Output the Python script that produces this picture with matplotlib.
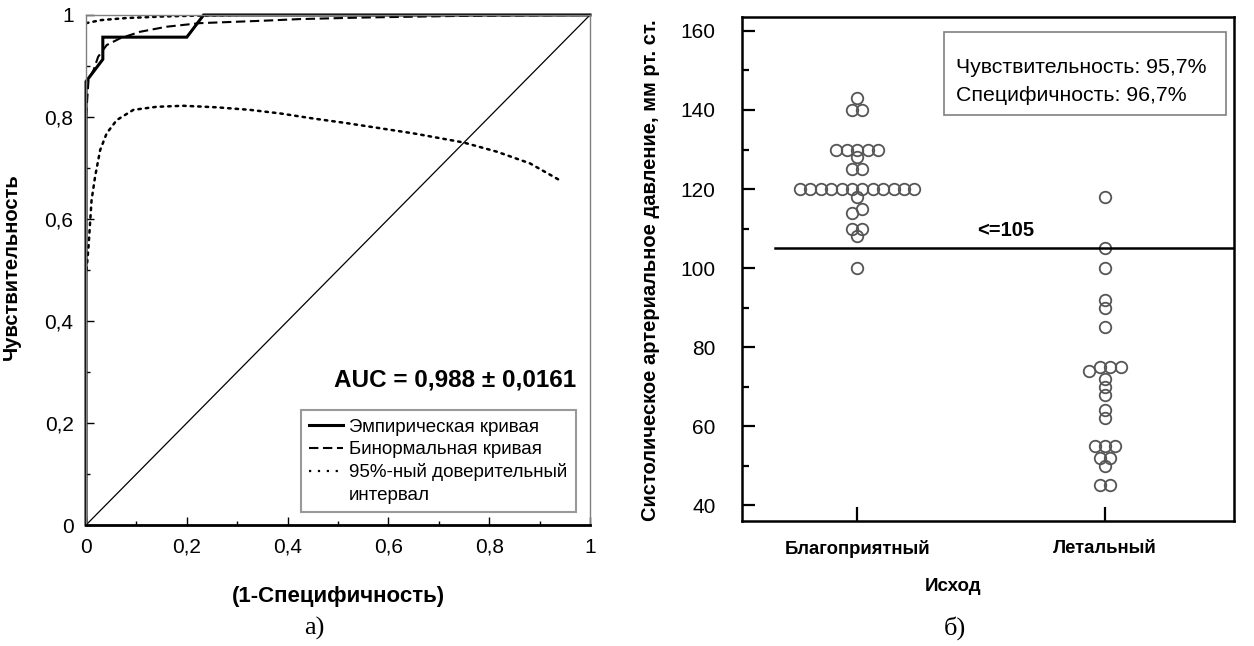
import numpy as np
import matplotlib.pyplot as plt
from matplotlib.lines import Line2D
from matplotlib.patches import Rectangle
from matplotlib.ticker import MultipleLocator, FuncFormatter

plt.rcParams['font.family'] = ['Liberation Sans', 'DejaVu Sans']

# ROC: empirical curve (23 lethal, 30 favourable outcomes)
emp_fpr = [0.0, 0.0, 1 / 30, 1 / 30, 6 / 30, 7 / 30, 1.0]
emp_tpr = [0.0, 20 / 23, 21 / 23, 22 / 23, 22 / 23, 1.0, 1.0]

# binormal fit
bin_fpr = [0.0, 0.005, 0.015, 0.024, 0.041, 0.067, 0.107, 0.16, 0.226, 0.358, 0.425, 0.55, 0.73, 1.0]
bin_tpr = [0.80, 0.873, 0.892, 0.918, 0.941, 0.954, 0.967, 0.977, 0.984, 0.989, 0.992, 0.995, 0.998, 1.0]

# 95% confidence band
ci_up_fpr = [0.0, 0.03, 0.08, 0.15, 0.23, 0.30]
ci_up_tpr = [0.984, 0.990, 0.994, 0.997, 0.999, 1.0]
ci_lo_fpr = [0.001, 0.005, 0.008, 0.011, 0.018, 0.028, 0.041, 0.061, 0.094, 0.14, 0.193, 0.259,
             0.325, 0.385, 0.451, 0.517, 0.583, 0.649, 0.716, 0.749, 0.815, 0.881, 0.94]
ci_lo_tpr = [0.50, 0.546, 0.592, 0.637, 0.683, 0.735, 0.768, 0.794, 0.814, 0.82, 0.822, 0.819,
             0.814, 0.807, 0.797, 0.788, 0.778, 0.768, 0.756, 0.75, 0.732, 0.709, 0.676]

auc_text = "AUC = 0,988 ± 0,0161"

# systolic pressure by outcome
groups = ["Благоприятный", "Летальный"]
sbp_good = [143, 140, 140, 130, 130, 130, 130, 130, 128, 125, 125,
            120, 120, 120, 120, 120, 120, 120, 120, 120, 120, 120, 120,
            118, 115, 114, 110, 110, 108, 100]
sbp_dead = [118, 105, 100, 92, 90, 85, 75, 75, 75, 74, 72, 70, 68, 64, 62,
            55, 55, 55, 52, 52, 50, 45, 45]
cutoff = 105
sens_text = "Чувствительность: 95,7%"
spec_text = "Специфичность: 96,7%"


def dot_offsets(values, step, width=2.0):
    # values falling into the same bin are put side by side
    vals = np.asarray(values, float)
    bins = np.floor(vals / width)
    xs = np.zeros_like(vals)
    for b in np.unique(bins):
        idx = np.where(bins == b)[0]
        idx = idx[np.argsort(vals[idx], kind='stable')]
        n = len(idx)
        xs[idx] = (np.arange(n) - (n - 1) / 2) * step
    return xs


comma = FuncFormatter(lambda v, p: ("%g" % v).replace('.', ','))

fig = plt.figure(figsize=(12.54, 6.46), dpi=100)

# ---- а) ROC curve
ax1 = fig.add_axes([0.0686, 0.1873, 0.4019, 0.7895])
ax1.plot([0, 1], [0, 1], color='black', lw=0.9)
ax1.plot(ci_up_fpr, ci_up_tpr, color='black', lw=1.8, ls=(0, (1, 2)), dash_capstyle='round')
ax1.plot(ci_lo_fpr, ci_lo_tpr, color='black', lw=1.8, ls=(0, (1, 2)), dash_capstyle='round')
ax1.plot(bin_fpr, bin_tpr, color='black', lw=1.5, dashes=(4.5, 2.2))
ax1.plot(emp_fpr, emp_tpr, color='black', lw=2.2, solid_joinstyle='miter', clip_on=False)

ax1.set_xlim(0, 1)
ax1.set_ylim(0, 1)
ax1.xaxis.set_major_locator(MultipleLocator(0.2))
ax1.xaxis.set_minor_locator(MultipleLocator(0.1))
ax1.yaxis.set_major_locator(MultipleLocator(0.2))
ax1.yaxis.set_minor_locator(MultipleLocator(0.1))
ax1.xaxis.set_major_formatter(comma)
ax1.yaxis.set_major_formatter(comma)
ax1.tick_params(which='both', direction='in', labelsize=15, width=1.0, pad=9)
ax1.tick_params(which='major', length=5.5)
ax1.tick_params(which='minor', length=3)
for side in ['top', 'right', 'left']:
    ax1.spines[side].set_color('#808080')
    ax1.spines[side].set_linewidth(1.0)
ax1.spines['bottom'].set_linewidth(2.0)

ax1.set_xlabel("(1-Специфичность)", fontsize=16, fontweight='bold')
ax1.xaxis.set_label_coords(0.5, -0.12)
ax1.set_ylabel("Чувствительность", fontsize=14.5, fontweight='bold')
ax1.yaxis.set_label_coords(-0.13, 0.506)

ax1.text(0.972, 0.285, auc_text, transform=ax1.transAxes, ha='right', va='center',
         fontsize=17.5, fontweight='bold')

# last entry is the continuation line of the confidence-interval label
handles = [Line2D([], [], color='black', lw=2.2),
           Line2D([], [], color='black', lw=1.5, dashes=(4.5, 2.2)),
           Line2D([], [], color='black', lw=1.6, ls=(0, (1, 3))),
           Line2D([], [], color='none')]
labels = ["Эмпирическая кривая", "Бинормальная кривая", "95%-ный доверительный", "интервал"]
leg = ax1.legend(handles, labels, loc='lower right', bbox_to_anchor=(0.972, 0.025),
                 fontsize=13.5, frameon=True, fancybox=False, borderaxespad=0,
                 handlelength=1.8, handletextpad=0.32, labelspacing=0.28,
                 borderpad=0.45)
leg.get_frame().set_edgecolor('#808080')
leg.get_frame().set_linewidth(1.5)

# ---- б) dot plot
ax2 = fig.add_axes([0.5917, 0.1935, 0.3923, 0.780])
step = 0.042
for pos, vals in zip([1, 2], [sbp_good, sbp_dead]):
    xs = pos + dot_offsets(vals, step)
    ax2.plot(xs, vals, ls='none', marker='o', ms=8.3, mfc='none', mec='#555555', mew=1.3)

ax2.plot([0.67, 2.53], [cutoff, cutoff], color='black', lw=1.8)
ax2.text(1.6, cutoff + 2.2, "<=%d" % cutoff, ha='center', va='bottom', fontsize=14.5, fontweight='bold')

ax2.set_xlim(0.535, 2.52)
ax2.set_ylim(36, 163.5)
ax2.set_xticks([1, 2])
ax2.set_xticklabels(groups, fontsize=13.3, fontweight='bold')
ax2.yaxis.set_major_locator(MultipleLocator(20))
ax2.yaxis.set_minor_locator(MultipleLocator(10))
ax2.tick_params(which='both', direction='in', width=1.6)
ax2.tick_params(axis='y', which='major', length=9.5, pad=19, labelsize=15)
ax2.tick_params(axis='y', which='minor', length=4.8)
ax2.tick_params(axis='x', which='major', length=9.8, pad=14)
for sp in ax2.spines.values():
    sp.set_linewidth(1.8)

ax2.set_xlabel("Исход", fontsize=13.5, fontweight='bold')
ax2.xaxis.set_label_coords(0.43, -0.113)
ax2.set_ylabel("Систолическое артериальное давление, мм рт. ст.", fontsize=14.5, fontweight='bold')
ax2.yaxis.set_label_coords(-0.166, 0.498)

# sensitivity / specificity box
ax2.add_patch(Rectangle((0.411, 0.806), 0.573, 0.165, transform=ax2.transAxes,
                        fc='white', ec='#808080', lw=1.2, zorder=3))
ax2.text(0.435, 0.901, sens_text, transform=ax2.transAxes, ha='left', va='center',
         fontsize=15.3, zorder=4)
ax2.text(0.435, 0.845, spec_text, transform=ax2.transAxes, ha='left', va='center',
         fontsize=15.3, zorder=4)

fig.text(314 / 1254, 1 - 628 / 646, "а)", family='Liberation Serif', fontsize=19,
         ha='center', va='center')
fig.text(955 / 1254, 1 - 628 / 646, "б)", family='Liberation Serif', fontsize=19,
         ha='center', va='center')

fig.savefig("out.png", dpi=100)
